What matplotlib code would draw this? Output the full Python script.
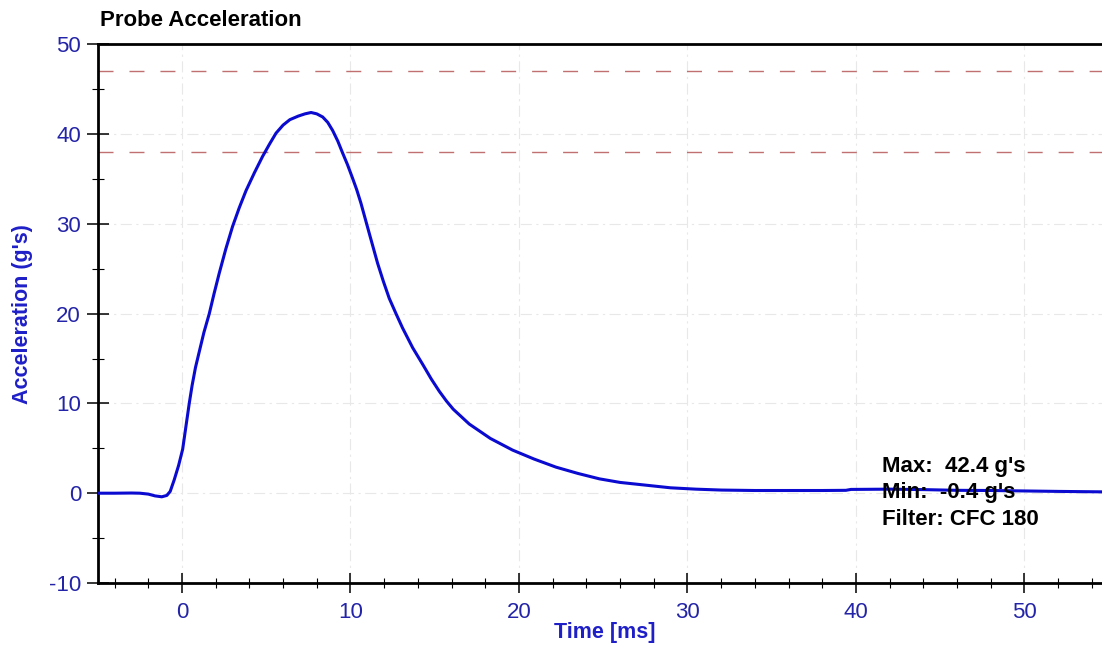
import matplotlib
matplotlib.use("Agg")
import matplotlib.pyplot as plt
from matplotlib.ticker import MultipleLocator

plt.rcParams['font.family'] = ['Liberation Sans', 'DejaVu Sans']
plt.rcParams['axes.unicode_minus'] = False

# probe acceleration trace
time_ms = [-5.0, -4.0, -3.0, -2.5, -2.0, -1.6, -1.2, -0.9, -0.7, -0.46, -0.2,
           0.04, 0.2, 0.43, 0.6, 0.8, 1.03, 1.3, 1.62, 1.9, 2.21, 2.6, 3.0, 3.4,
           3.8, 4.3, 4.78, 5.2, 5.58, 6.0, 6.4, 6.9, 7.3, 7.66, 8.0, 8.35,
           8.65, 8.94, 9.25, 9.53, 9.82, 10.12, 10.37, 10.62, 11.12, 11.61, 11.95,
           12.3, 12.7, 13.09, 13.69, 14.3, 14.8, 15.27, 15.7, 16.1, 17.05, 18.3, 19.62,
           20.9, 22.2, 23.5, 24.77, 26.0, 27.5, 29.0, 30.5, 32.0, 34.0, 36.0,
           38.0, 39.4, 39.7, 42.0, 44.0, 46.0, 48.0, 50.0, 52.0, 54.6]
accel_g = [0.0, 0.0, 0.02, 0.0, -0.1, -0.3, -0.4, -0.25, 0.2, 1.5, 3.1,
           4.9, 7.0, 10.0, 12.0, 14.0, 15.8, 17.9, 20.0, 22.2, 24.5, 27.2, 29.7, 31.8,
           33.7, 35.7, 37.5, 38.9, 40.1, 41.0, 41.6, 42.0, 42.25, 42.4, 42.25, 41.9,
           41.3, 40.4, 39.2, 37.9, 36.6, 35.1, 33.8, 32.3, 28.9, 25.6, 23.6,
           21.7, 20.0, 18.4, 16.2, 14.3, 12.7, 11.35, 10.25, 9.35, 7.7, 6.1, 4.8,
           3.8, 2.9, 2.2, 1.6, 1.2, 0.9, 0.6, 0.45, 0.35, 0.3, 0.3,
           0.3, 0.32, 0.42, 0.45, 0.4, 0.32, 0.3, 0.25, 0.2, 0.15]

limit_lines = [47, 38]
stats_lines = ["Max:  42.4 g's", "Min:  -0.4 g's", "Filter: CFC 180"]

blue_txt = '#2424a8'
blue_lbl = '#1f1fc8'

fig = plt.figure(figsize=(11.02, 6.5), dpi=100)
ax = fig.add_axes([0.0887, 0.1031, 1.0 - 0.0887, 0.8288])

ax.plot(time_ms, accel_g, color='#0a0ad0', lw=2.2, zorder=3,
        solid_capstyle='round', solid_joinstyle='round')
for yv in limit_lines:
    ax.axhline(yv, color='#c07070', lw=1.0, ls=(0, (10.8, 11.5)), zorder=2)

ax.set_xlim(-5, 54.6)
ax.set_ylim(-10, 50)
ax.xaxis.set_major_locator(MultipleLocator(10))
ax.xaxis.set_minor_locator(MultipleLocator(2))
ax.yaxis.set_major_locator(MultipleLocator(10))
ax.yaxis.set_minor_locator(MultipleLocator(5))

ax.grid(True, which='major', color='#e8e8e8', lw=0.8, ls=(0, (10, 4, 2, 4)), zorder=0)

ax.spines['right'].set_visible(False)
for s in ['left', 'bottom', 'top']:
    ax.spines[s].set_linewidth(2.0)
    ax.spines[s].set_color('black')

ax.tick_params(axis='x', which='major', direction='inout', length=15, width=1.1,
               pad=6, labelsize=16, colors='black')
ax.tick_params(axis='x', which='minor', direction='inout', length=7, width=0.8)
ax.tick_params(axis='y', which='major', direction='inout', length=16, width=1.1,
               pad=4, labelsize=16, colors='black')
ax.tick_params(axis='y', which='minor', direction='inout', length=8.6, width=0.8)
ax.tick_params(which='both', labelcolor=blue_txt)

ax.set_xlabel('Time [ms]', fontsize=15.5, fontweight='bold', color=blue_lbl)
ax.set_ylabel("Acceleration (g's)", fontsize=15.5, fontweight='bold', color=blue_lbl)
ax.xaxis.set_label_coords((605 - 97.7) / 1004.3, -0.073)
ax.yaxis.set_label_coords(-0.0644, 0.5)

fig.text(100 / 1102, 1 - 20 / 650, 'Probe Acceleration', fontsize=16,
         fontweight='bold', color='black', ha='left', va='center')

for i, line in enumerate(stats_lines):
    ax.text(0.781, 0.2153 - i * 26 / 538.7, line, transform=ax.transAxes,
            fontsize=16, fontweight='bold', color='black', ha='left', va='center',
            zorder=4)

fig.savefig('out.png', dpi=100)
